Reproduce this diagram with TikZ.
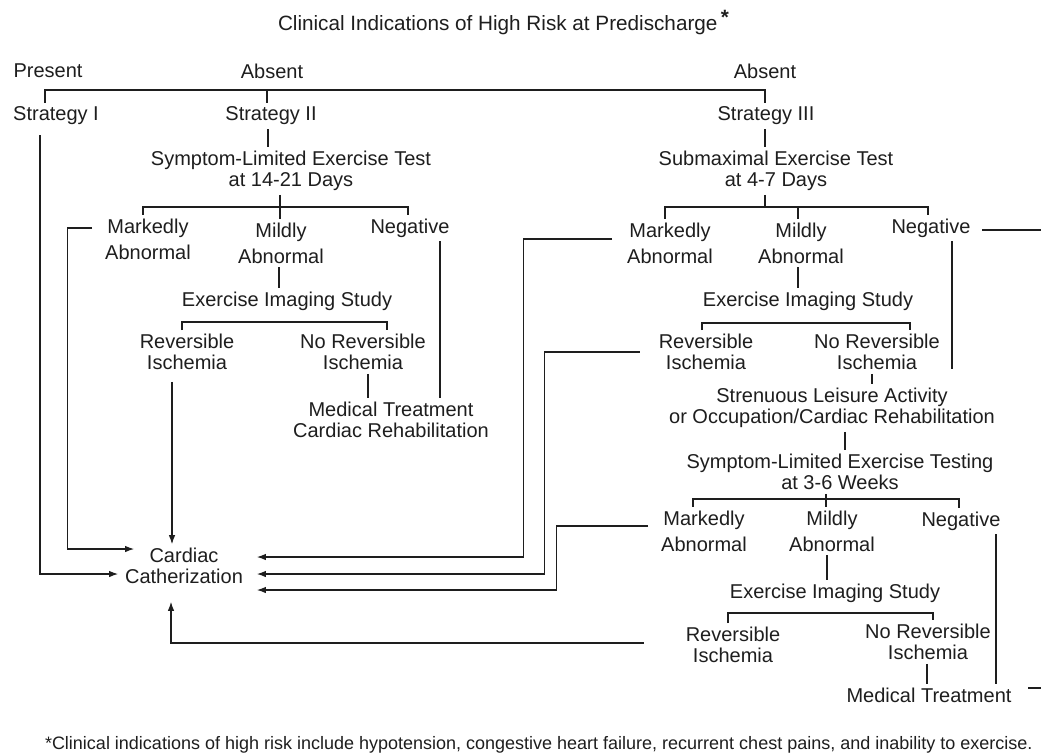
\documentclass[tikz,border=0pt]{standalone}
\usepackage{fontspec}
\setmainfont{Liberation Sans}
\usetikzlibrary{arrows.meta}
\definecolor{ink}{HTML}{1E1E1E}
\begin{document}
\begin{tikzpicture}[x=1pt,y=-1pt,
  every node/.style={inner xsep=0pt, inner ysep=4pt, outer sep=0pt, text=ink},
  lbl/.style={align=center, font=\fontsize{20}{21}\selectfont},
  lbls/.style={align=center, font=\fontsize{20}{26}\selectfont},
  conn/.style={draw=ink, line width=1.1pt},
  arr/.style={conn, -{Latex[length=9pt,width=6.5pt]}}]
\fill[white] (0,0) rectangle (1041,753);
\useasboundingbox (0,0) rectangle (1041,753);

% ---- nodes ----
\node[align=center, font=\fontsize{20.7}{22}\selectfont, anchor=west] (title) at (278,23) {Clinical Indications of High Risk at Predischarge\,\raisebox{6pt}{\textbf{*}}};
\node[lbl] (present) at (48,71) {Present};
\node[lbl] (absL) at (272,71) {Absent};
\node[lbl] (absR) at (765,71) {Absent};
\node[lbl] (s1) at (56,116) {Strategy I};
\node[lbl] (s2) at (271,116) {Strategy II};
\node[lbl] (s3) at (766,116) {Strategy III};
\node[lbl] (t2) at (291,171) {Symptom-Limited Exercise Test\\at 14-21 Days};
\node[lbl] (t3) at (776,171) {Submaximal Exercise Test\\at 4-7 Days};
\node[lbls] (ma2) at (148,239) {Markedly\\Abnormal};
\node[lbls] (mi2) at (281,243) {Mildly\\Abnormal};
\node[lbl] (ng2) at (410,228) {Negative};
\node[lbl] (ei2) at (287,301) {Exercise Imaging Study};
\node[lbl] (ri2) at (187,352) {Reversible\\Ischemia};
\node[lbl] (nr2) at (363,352) {No Reversible\\Ischemia};
\node[lbl] (mt2) at (391,420) {Medical Treatment\\Cardiac Rehabilitation};
\node[lbl] (cc) at (184,566) {Cardiac\\Catherization};
\node[lbls] (ma3) at (670,243) {Markedly\\Abnormal};
\node[lbls] (mi3) at (801,243) {Mildly\\Abnormal};
\node[lbl] (ng3) at (931,228) {Negative};
\node[lbl] (ei3) at (808,301) {Exercise Imaging Study};
\node[lbl] (ri3) at (706,352) {Reversible\\Ischemia};
\node[lbl] (nr3) at (877,352) {No Reversible\\Ischemia};
\node[lbl] (sl3) at (832,408) {Strenuous Leisure Activity\\or Occupation/Cardiac Rehabilitation};
\node[lbl] (t4) at (840,472) {Symptom-Limited Exercise Testing\\at 3-6 Weeks};
\node[lbls] (ma4) at (704,531) {Markedly\\Abnormal};
\node[lbls] (mi4) at (832,531) {Mildly\\Abnormal};
\node[lbl] (ng4) at (961,521) {Negative};
\node[lbl] (ei4) at (835,593) {Exercise Imaging Study};
\node[lbl] (ri4) at (733,645) {Reversible\\Ischemia};
\node[lbl] (nr4) at (928,642) {No Reversible\\Ischemia};
\node[lbl] (mt4) at (929,695) {Medical Treatment};
\node[font=\fontsize{18}{20}\selectfont, anchor=west] (fn) at (45,745) {*Clinical indications of high risk include hypotension, congestive heart failure, recurrent chest pains, and inability to exercise.};

% ---- bars ----
\coordinate (bar1) at (0,90);
\coordinate (bar2) at (0,207);
\coordinate (bar3) at (0,322);
\coordinate (bar5) at (0,323);
\coordinate (bar6) at (0,499);
\coordinate (bar7) at (0,613);

% root
\coordinate (k1) at ([xshift=-11pt]s1.north);
\coordinate (k2) at ([xshift=-4pt]s2.north);
\coordinate (k3) at ([xshift=-1pt]s3.north);
\draw[conn] (k1) |- (k3 |- bar1) -- (k3);
\draw[conn] (k2) -- (k2 |- bar1);

% strategy II
\coordinate (k4) at ([xshift=-3pt]s2.south);
\draw[conn] (k4) -- (k4 |- t2.north);
\coordinate (k5) at ([xshift=-11pt]t2.south);
\draw[conn] (k5) -- (k5 |- bar2);
\coordinate (k6) at ([xshift=-5pt]ma2.north);
\coordinate (k7) at ([xshift=-2pt]ng2.north);
\draw[conn] (k6) |- (k7 |- bar2) -- (k7);
\coordinate (k8) at ([xshift=-1pt]mi2.north);
\draw[conn] (k8) -- (k8 |- bar2);
\coordinate (k9) at ([xshift=-2pt]mi2.south);
\draw[conn] (k9) -- (k9 |- ei2.north);
\coordinate (k10) at ([xshift=-5pt]ri2.north);
\coordinate (k11) at ([xshift=24pt]nr2.north);
\draw[conn] (k10) |- (k11 |- bar3) -- (k11);
\coordinate (k12) at ([xshift=5pt]nr2.south);
\draw[conn] (k12) -- (k12 |- mt2.north);
\coordinate (k13) at ([xshift=30pt]ng2.south);
\draw[conn] (k13) -- (k13 |- mt2.north);
\coordinate (k14) at ([xshift=-15pt,yshift=-8pt]ri2.south);
\draw[arr] (k14) -- (k14 |- cc.north);
\coordinate (k15) at ([xshift=-13pt,yshift=11pt]ma2.west);
\coordinate (k16) at ([xshift=9pt,yshift=17pt]cc.west);
\draw[arr] (k15) -- ++(-25,0) |- (k16);

% strategy I
\coordinate (k17) at ([xshift=-16pt,yshift=-6pt]s1.south);
\coordinate (k18) at ([xshift=-7pt,yshift=-8pt]cc.west);
\draw[arr] (k17) |- (k18);

% right side into catheterization
\coordinate (k19) at ([xshift=-15pt,yshift=4pt]ma3.west);
\coordinate (k20) at ([xshift=14pt,yshift=9pt]cc.east);
\draw[arr] (k19) -- ++(-89,0) |- (k20);
\coordinate (k21) at ([xshift=-19pt]ri3.west);
\coordinate (k22) at ([xshift=14pt,yshift=-8pt]cc.east);
\draw[arr] (k21) -- ++(-95,0) |- (k22);
\coordinate (k23) at ([xshift=-13pt,yshift=5pt]ma4.west);
\coordinate (k24) at ([xshift=14pt,yshift=-24pt]cc.east);
\draw[arr] (k23) -- ++(-92,0) |- (k24);
\coordinate (k25) at ([xshift=-42pt,yshift=2pt]ri4.west);
\coordinate (k26) at ([xshift=-13pt,yshift=-14pt]cc.south);
\draw[arr] (k25) -| (k26);

% strategy III
\coordinate (k27) at ([xshift=-1pt]s3.south);
\draw[conn] (k27) -- (k27 |- t3.north);
\coordinate (k28) at ([xshift=-11pt]t3.south);
\draw[conn] (k28) -- (k28 |- bar2);
\coordinate (k29) at ([xshift=-5pt]ma3.north);
\coordinate (k30) at ([xshift=-3pt]ng3.north);
\draw[conn] (k29) |- (k30 |- bar2) -- (k30);
\coordinate (k31) at ([xshift=-3pt]mi3.north);
\draw[conn] (k31) -- (k31 |- bar2);
\coordinate (k32) at ([xshift=-3pt]mi3.south);
\draw[conn] (k32) -- (k32 |- ei3.north);
\coordinate (k33) at ([xshift=-4pt]ri3.north);
\coordinate (k34) at ([xshift=33pt]nr3.north);
\draw[conn] (k33) |- (k34 |- bar5) -- (k34);
\coordinate (k35) at ([xshift=-5pt]nr3.south);
\draw[conn] (k35) -- (k35 |- sl3.north);
\coordinate (k36) at ([xshift=13pt]sl3.south);
\draw[conn] (k36) -- (k36 |- t4.north);
\coordinate (k37) at ([xshift=-14pt]t4.south);
\draw[conn] (k37) -- (k37 |- mi4.north);
\coordinate (k38) at ([xshift=-11pt]ma4.north);
\coordinate (k39) at ([xshift=-2pt]ng4.north);
\draw[conn] (k38) |- (k39 |- bar6) -- (k39);
\coordinate (k40) at ([xshift=-5pt]mi4.south);
\draw[conn] (k40) -- (k40 |- ei4.north);
\coordinate (k41) at ([xshift=-5pt]ri4.north);
\coordinate (k42) at ([xshift=5pt]nr4.north);
\draw[conn] (k41) |- (k42 |- bar7) -- (k42);
\coordinate (k43) at ([xshift=-1pt]nr4.south);
\draw[conn] (k43) -- (k43 |- mt4.north);
\coordinate (k44) at ([xshift=35pt]ng4.south);
\draw[conn] (k44) -- (k44 |- mt4.north);
\coordinate (k45) at ([xshift=12pt,yshift=-2pt]ng3.east);
\coordinate (outA) at (1041,230);
\draw[conn] (k45) -- (outA |- k45);
\coordinate (k46) at ([xshift=21pt]ng3.south);
\coordinate (k47) at ([yshift=15pt]sl3.north);
\draw[conn] (k46) -- (k46 |- k47);
\coordinate (k48) at ([xshift=17pt,yshift=7pt]mt4.east);
\coordinate (outB) at (1041,688);
\draw[conn] (k48) -- (outB |- k48);
\end{tikzpicture}
\end{document}
